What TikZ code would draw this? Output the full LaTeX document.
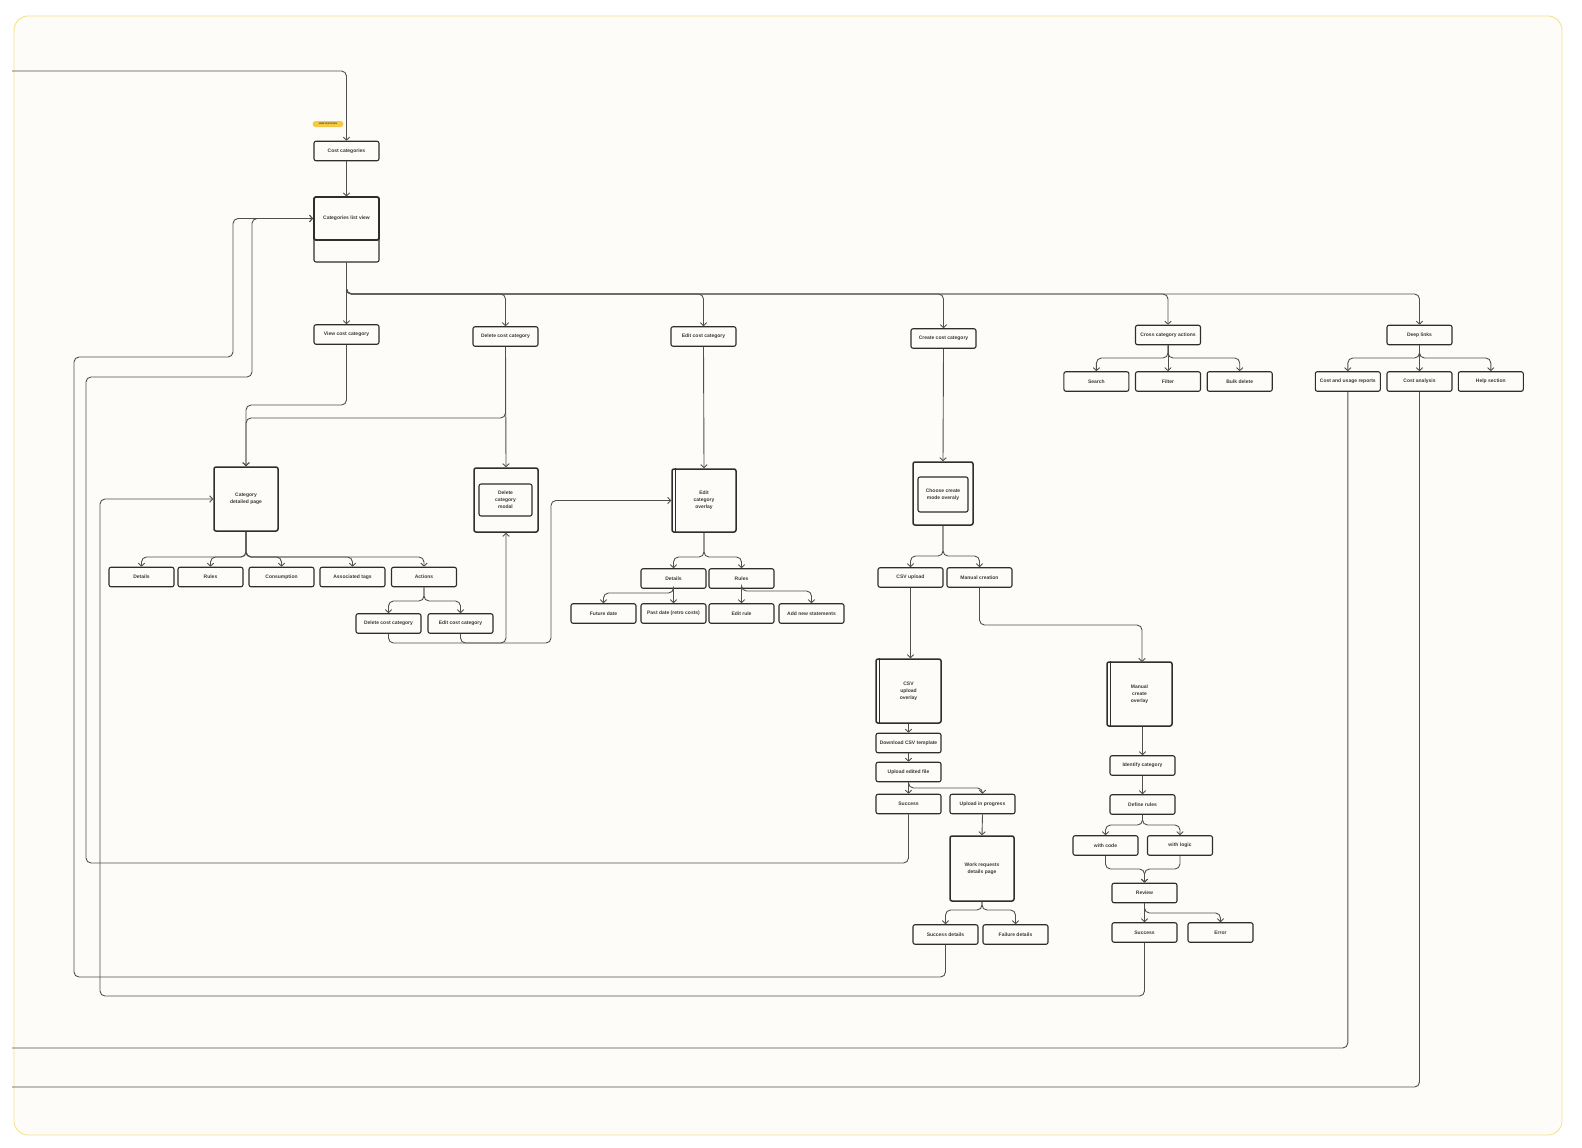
\documentclass[tikz,border=0pt]{standalone}
\usepackage{fontspec}
\setmainfont{Liberation Sans}
\usetikzlibrary{arrows.meta,calc}
\definecolor{bg}{HTML}{FDFCF8}
\definecolor{framec}{HTML}{F6DF8A}
\definecolor{boxc}{HTML}{2E2E2E}
\definecolor{linec}{HTML}{505050}
\definecolor{txt}{HTML}{3A3A3A}
\definecolor{badgec}{HTML}{F5C945}
\newcommand\lblfont{\fontsize{5}{7.2}\selectfont\bfseries}
\tikzset{
  box/.style={draw=boxc, line width=1.1pt, rounded corners=2pt, fill=bg, minimum width=65pt, minimum height=19.5pt, inner sep=1pt, font=\lblfont, text=txt, align=center},
  pagebox/.style={box, line width=1.5pt, minimum width=64pt, minimum height=64pt},
  conn/.style={draw=linec, line width=0.9pt, rounded corners=5pt},
  arr/.style={conn, -{Straight Barb[length=3pt,width=6.5pt]}},
  stripe/.style={draw=boxc, line width=1.1pt}
}
\begin{document}
\begin{tikzpicture}[x=1pt,y=-1pt]
\useasboundingbox (0,0) rectangle (1582,1148);
\fill[white] (0,0) rectangle (1582,1148);
\draw[framec, line width=0.8pt, fill=bg, rounded corners=14pt] (14,16) rectangle (1562,1135);

% ---------- nodes ----------
\node[fill=badgec, rounded corners=3pt, minimum width=31pt, minimum height=6pt, inner sep=0pt, font=\fontsize{2.3}{2.5}\selectfont\bfseries, text=txt] (badge) at (328,124) {NEW FEATURES};
\node[box] (costcat) at (346.5,151) {Cost categories};
\node[box, minimum height=65pt] (listview) at (346.5,229.5) {};
\node[box, line width=1.8pt, minimum height=43pt] (lvtop) at (346.5,218.5) {Categories list view};

\node[box] (view) at (346.5,334.5) {View cost category};
\node[box] (delcc) at (505.5,336.5) {Delete cost category};
\node[box] (editcc) at (703.5,336.5) {Edit cost category};
\node[box] (create) at (943.5,338.5) {Create cost category};
\node[box] (cross) at (1168,335) {Cross category actions};
\node[box] (deep) at (1419.5,335) {Deep links};

\node[box] (search) at (1096.4,381.5) {Search};
\node[box] (filter) at (1168,381.5) {Filter};
\node[box] (bulk) at (1239.7,381.5) {Bulk delete};
\node[box] (cur) at (1347.8,381.5) {Cost and usage reports};
\node[box] (ca) at (1419.5,381.5) {Cost analysis};
\node[box] (help) at (1490.8,381.5) {Help section};

\node[pagebox] (cdp) at (246,499) {Category\\detailed page};
\node[box] (details) at (141.5,577) {Details};
\node[box] (rules) at (210.5,577) {Rules};
\node[box] (consump) at (281.5,577) {Consumption};
\node[box] (tags) at (352.5,577) {Associated tags};
\node[box] (actions) at (424,577) {Actions};
\node[box] (delcc2) at (388.5,623.5) {Delete cost category};
\node[box] (editcc2) at (460.5,623.5) {Edit cost category};

\node[pagebox] (modal) at (506,500) {};
\node[box, minimum width=53pt, minimum height=32pt] (modalin) at (505.5,500) {Delete\\category\\modal};

\node[pagebox, minimum height=63pt] (editov) at (704,500.5) {Edit\\category\\overlay};
\draw[stripe] ([xshift=4.5pt]editov.north west) -- ([xshift=4.5pt]editov.south west);
\node[box] (eddet) at (673.5,578.5) {Details};
\node[box] (edrules) at (741.5,578.5) {Rules};
\node[box] (future) at (603.5,613.5) {Future date};
\node[box] (past) at (673.5,613.5) {Past date (retro costs)};
\node[box] (editrule) at (741.5,613.5) {Edit rule};
\node[box] (addnew) at (811.5,613.5) {Add new statements};

\node[pagebox, minimum width=60pt, minimum height=63pt] (choose) at (943,493.5) {};
\node[box, minimum width=50pt, minimum height=35pt] (choosein) at (943,494.5) {Choose create\\mode overaly};
\node[box] (csv) at (910.5,577.5) {CSV upload};
\node[box] (manual) at (979.5,577.5) {Manual creation};

\node[pagebox, minimum width=65pt] (csvov) at (908.5,691) {CSV\\upload\\overlay};
\draw[stripe] ([xshift=4.5pt]csvov.north west) -- ([xshift=4.5pt]csvov.south west);
\node[box] (download) at (908.5,743) {Download CSV template};
\node[box] (upload) at (908.5,772) {Upload edited file};
\node[box] (success1) at (908.5,804) {Success};
\node[box] (progress) at (982.5,804) {Upload in progress};
\node[pagebox, minimum height=65pt] (wrdp) at (982,868.5) {Work requests\\details page};
\node[box] (sdet) at (945.5,934.5) {Success details};
\node[box] (fdet) at (1015.5,934.5) {Failure details};

\node[pagebox, minimum width=65pt] (mcov) at (1139.5,694) {Manual\\create\\overlay};
\draw[stripe] ([xshift=4.5pt]mcov.north west) -- ([xshift=4.5pt]mcov.south west);
\node[box] (identify) at (1142.5,765.5) {Identify category};
\node[box] (define) at (1142.5,804.5) {Define rules};
\node[box] (withcode) at (1105.5,845.5) {with code};
\node[box] (withlogic) at (1180,845.5) {with logic};
\node[box] (review) at (1144.5,893) {Review};
\node[box] (success2) at (1144.5,932.5) {Success};
\node[box] (error) at (1220.5,932.5) {Error};

% ---------- rail coordinates ----------
\coordinate (topstart) at (12,71);
\coordinate (bus) at (0,294);
\coordinate (yView) at (0,405);
\coordinate (yDel) at (0,418);
\coordinate (yCdp) at (0,557);
\coordinate (yAct) at (0,601);
\coordinate (yFut) at (0,593);
\coordinate (yAdd) at (0,591);
\coordinate (yCho) at (0,556);
\coordinate (yMan) at (0,625);
\coordinate (yUp) at (0,788);
\coordinate (yWr) at (0,910);
\coordinate (yDef) at (0,825);
\coordinate (yMerge) at (0,869);
\coordinate (yRev) at (0,913);
\coordinate (yCross) at (0,358);
\coordinate (mcovtop) at (1142,662);
\coordinate (endA) at (12,1048);
\coordinate (endB) at (12,1087);

% ---------- connectors ----------
\draw[arr] (topstart) -| (costcat.north);
\draw[arr] (costcat.south) -- (listview.north);
\draw[arr] (listview.south) -- (view.north);
\foreach \n in {delcc,editcc,create,cross,deep}
  \draw[arr] (listview.south) |- (bus -| \n.north) -- (\n.north);

\draw[arr] (view.south) |- (yView -| cdp.north) -- (cdp.north);
\draw[arr] (delcc.south) |- (yDel -| cdp.north) -- (cdp.north);
\draw[arr] (delcc.south) -- (modal.north);
\draw[arr] (editcc.south) -- (editov.north);
\draw[arr] (create.south) -- (choose.north);

\foreach \n in {search,bulk}
  \draw[arr] (cross.south) |- (yCross -| \n.north) -- (\n.north);
\draw[arr] (cross.south) -- (filter.north);
\foreach \n in {cur,help}
  \draw[arr] (deep.south) |- (yCross -| \n.north) -- (\n.north);
\draw[arr] (deep.south) -- (ca.north);

\foreach \n in {details,rules,consump,tags,actions}
  \draw[arr] (cdp.south) |- (yCdp -| \n.north) -- (\n.north);
\foreach \n in {delcc2,editcc2}
  \draw[arr] (actions.south) |- (yAct -| \n.north) -- (\n.north);

\foreach \n in {eddet,edrules}
  \draw[arr] (editov.south) |- (yCdp -| \n.north) -- (\n.north);
\draw[arr] (eddet.south) |- (yFut -| future.north) -- (future.north);
\draw[arr] (eddet.south) -- (past.north);
\draw[arr] (edrules.south) -- (editrule.north);
\draw[arr] (edrules.south) |- (yAdd -| addnew.north) -- (addnew.north);

\foreach \n in {csv,manual}
  \draw[arr] (choose.south) |- (yCho -| \n.north) -- (\n.north);
\draw[arr] (csv.south) -- (csv.south |- csvov.north);
\draw[arr] (manual.south) |- (yMan -| mcovtop) -- (mcovtop);
\draw[arr] (csvov.south) -- (download.north);
\draw[arr] (download.south) -- (upload.north);
\draw[arr] (upload.south) -- (success1.north);
\draw[arr] (upload.south) |- (yUp -| progress.north) -- (progress.north);
\draw[arr] (progress.south) -- (wrdp.north);
\foreach \n in {sdet,fdet}
  \draw[arr] (wrdp.south) |- (yWr -| \n.north) -- (\n.north);

\draw[arr] (identify.north |- mcov.south) -- (identify.north);
\draw[arr] (identify.south) -- (define.north);
\foreach \n in {withcode,withlogic}
  \draw[arr] (define.south) |- (yDef -| \n.north) -- (\n.north);
\draw[arr] (withcode.south) |- (yMerge -| review.north) -- (review.north);
\draw[arr] (withlogic.south) |- (yMerge -| review.north) -- (review.north);
\draw[arr] (review.south) -- (success2.north);
\draw[arr] (review.south) |- (yRev -| error.north) -- (error.north);

% loops back
\draw[arr] (success1.south) -- (908.5,863) -- (86,863) -- (86,377) -- (252,377) -- (252,218.5) -- (lvtop.west);
\draw[arr] (sdet.south) -- (945.5,977) -- (74,977) -- (74,357) -- (233,357) -- (233,218.5) -- (lvtop.west);
\draw[arr] (success2.south) -- (1144.5,996) -- (100,996) -- (100,499) -- (cdp.west);
\draw[arr] (delcc2.south) -- (388.5,643) -- (506,643) -- (modal.south);
\draw[arr] (editcc2.south) -- (460.5,643) -- (551,643) -- (551,500.5) -- (editov.west);
\draw[conn] (cur.south) |- (endA);
\draw[conn] (ca.south) |- (endB);
\end{tikzpicture}
\end{document}
